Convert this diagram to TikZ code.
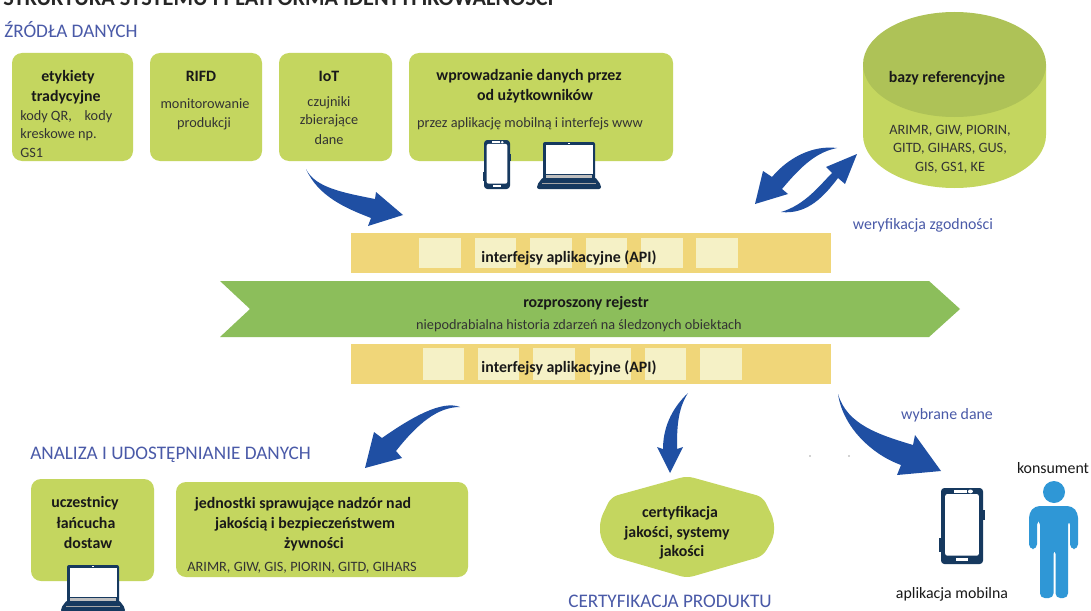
\documentclass[tikz,border=0pt]{standalone}
\usepackage{fontspec}
\setmainfont{Carlito}
\definecolor{boxgreen}{HTML}{C4D65F}
\definecolor{topgreen}{HTML}{AEC257}
\definecolor{bargold}{HTML}{F0D679}
\definecolor{barlight}{HTML}{F5F1C6}
\definecolor{ledger}{HTML}{8CBE5B}
\definecolor{arrowblue}{HTML}{1F4FA3}
\definecolor{headblue}{HTML}{4A5AA8}
\definecolor{navy}{HTML}{16395F}
\definecolor{personblue}{HTML}{2F97D6}
\newcommand{\phoneglyph}[4]{%
  \begin{scope}[shift={(#1,#2)},xscale=#3,yscale=#4]
    \fill[navy,rounded corners=2.5pt] (0,0) rectangle (100,100);
    \fill[navy] (-4,66) rectangle (1,84);
    \fill[navy] (99,29) rectangle (104,42);
    \fill[white,rounded corners=1.5pt] (10,8) rectangle (90,89);
    \fill[white] (30,3) rectangle (62,6);
    \fill[white] (70,4.5) ellipse[x radius=6,y radius=2.5];
    \fill[white] (36,91.5) rectangle (64,96.5);
  \end{scope}}
\newcommand{\laptopglyph}[2]{%
  \begin{scope}[shift={(#1,#2)}]
    \fill[navy,rounded corners=1.5pt] (6,0) rectangle (58,38);
    \fill[white] (8.5,3) rectangle (55.5,31.5);
    \fill[white] (31,0.5) rectangle (33,2.3);
    \fill[navy,rounded corners=1.5pt] (6,35) -- (0,43) -- (0,47) -- (64,47) -- (64,43) -- (58,35) -- cycle;
    \fill[black!25] (9,32.5) rectangle (55,35.5);
    \fill[black!35] (5,40.5) rectangle (59,41.5);
  \end{scope}}
\tikzset{
  x=0.75pt,y=-0.75pt,
  greenbox/.style={fill=boxgreen,rounded corners=7.5pt},
  bar/.style={fill=bargold},
  cell/.style={fill=barlight},
  blockarrow/.style={fill=arrowblue},
  lab/.style={inner sep=0pt,font=\fontsize{10.7}{13}\selectfont,text=black!80},
  blab/.style={inner sep=0pt,font=\fontsize{11.9}{14}\selectfont\bfseries,text=black!90},
  head/.style={inner sep=0pt,font=\fontsize{14.4}{17}\selectfont,text=headblue},
  note/.style={inner sep=0pt,font=\fontsize{11.9}{14}\selectfont,text=headblue},
}
\begin{document}
\begin{tikzpicture}
\useasboundingbox (0,0) rectangle (1091,610);
\begin{scope}
\clip (0,0) rectangle (1091,610);
\fill[white] (0,0) rectangle (1091,610);

% clipped page title
\node[anchor=base west,inner sep=0pt,font=\fontsize{16.7}{20}\selectfont\bfseries,text=black!85] (title) at (3,6) {STRUKTURA SYSTEMU I PLATFORMA IDENTYFIKOWALNOŚCI};

\node[head,anchor=west] (zrodla) at (4,30) {ŹRÓDŁA DANYCH};

% source boxes
\path[greenbox] (12,53) rectangle (133,161);
\path[greenbox] (150,53) rectangle (262,161);
\path[greenbox] (279,53) rectangle (392,161);
\path[greenbox] (409,53) rectangle (673,161);

\node[blab] (e1) at (68,77) {etykiety};
\node[blab] (e2) at (66,97) {tradycyjne};
\node[lab,anchor=west] (e3) at (20,117) {kody QR,\hspace{0.9em}kody};
\node[lab,anchor=west] (e4) at (20,135) {kreskowe np.};
\node[lab,anchor=west] (e5) at (20,153) {GS1};
\node[blab] (r1) at (201,76) {RIFD};
\node[lab] (r2) at (205,104) {monitorowanie};
\node[lab] (r3) at (204,124) {produkcji};
\node[blab] (i1) at (329,76) {IoT};
\node[lab] (i2) at (329,103) {czujniki};
\node[lab] (i3) at (329,121) {zbierające};
\node[lab] (i4) at (329,140) {dane};
\node[blab] (w1) at (529,76) {wprowadzanie danych przez};
\node[blab] (w2) at (535,96) {od użytkowników};
\node[lab] (w3) at (530,124) {przez aplikację mobilną i interfejs www};

\phoneglyph{484}{140}{0.26}{0.49}
\laptopglyph{537}{142}

% reference database
\path[fill=boxgreen] (863,64.5) -- (863,135) arc[start angle=180,end angle=360,x radius=91.5,y radius=-53] -- (1046,64.5) -- cycle;
\path[fill=topgreen] (954.5,64.5) ellipse[x radius=91.5,y radius=52.5];
\node[blab] (b1) at (947,78) {bazy referencyjne};
\node[lab,align=center,font=\fontsize{10.7}{13.9}\selectfont] (b2) at (950,149) {ARIMR, GIW, PIORIN,\\GITD, GIHARS, GUS,\\GIS, GS1, KE};
\node[note] (wer) at (923,225) {weryfikacja zgodności};

% API bars
\path[bar] (351,233) rectangle (831,273);
\foreach \a/\b in {419/461,475/516,530/572,586/627,641/683,696/738}
  \path[cell] (\a,238) rectangle (\b,268);
\node[blab] (api1) at (569,258) {interfejsy aplikacyjne (API)};

\path[fill=ledger] (220,281) -- (929,281) -- (960,309) -- (929,337) -- (220,337) -- (250,309) -- cycle;
\node[blab] (led1) at (586,303) {rozproszony rejestr};
\node[lab] (led2) at (579,326) {niepodrabialna historia zdarzeń na śledzonych obiektach};

\path[bar] (351,344) rectangle (831,384);
\foreach \a/\b in {423/464,478/519,533/575,590/631,645/686,700/742}
  \path[cell] (\a,348) rectangle (\b,380);
\node[blab] (api2) at (569,368) {interfejsy aplikacyjne (API)};

% block arrows
\path[blockarrow] (306,169) .. controls (315,188) and (345,193) .. (375,199) -- (376,192) -- (403,215) -- (368,226) -- (371,218) .. controls (345,208) and (318,196) .. cycle;
\path[blockarrow] (837,148) .. controls (812,145) and (788,158) .. (772,177) -- (763,171) -- (755,204) -- (788,194) -- (782,189) .. controls (802,165) and (817,152) .. cycle;
\path[blockarrow] (781,212) .. controls (805,205) and (820,185) .. (832,173) -- (826,167) -- (857,154) -- (845,184) -- (838,178) .. controls (825,195) and (808,215) .. cycle;
\path[blockarrow] (460,407) .. controls (442,400) and (412,417) .. (382,438) -- (374,432) -- (365,468) -- (402,458) -- (396,451) .. controls (418,423) and (438,407) .. cycle;
\path[blockarrow] (688,393) .. controls (670,410) and (663,430) .. (663,449) -- (657,447) -- (670,473) -- (683,447) -- (677,449) .. controls (677,430) and (677,410) .. cycle;
\path[blockarrow] (838,394) .. controls (847,425) and (880,435) .. (913,445) -- (915,435) -- (941,471) -- (897,475) -- (901,465) .. controls (873,455) and (843,428) .. cycle;

% analysis section
\node[head,anchor=west] (analiza) at (30,455) {ANALIZA I UDOSTĘPNIANIE DANYCH};
\path[greenbox] (31,479) rectangle (154,581);
\path[greenbox] (176,482) rectangle (468,577);
\node[blab] (u1) at (85,503) {uczestnicy};
\node[blab] (u2) at (86,523) {łańcucha};
\node[blab] (u3) at (88,543) {dostaw};
\node[blab] (j1) at (303,504) {jednostki sprawujące nadzór nad};
\node[blab] (j2) at (305,524) {jakością i bezpieczeństwem};
\node[blab] (j3) at (314,544) {żywności};
\node[lab] (j4) at (302,568) {ARIMR, GIW, GIS, PIORIN, GITD, GIHARS};
\laptopglyph{61}{565}

% certification
\path[fill=boxgreen,rounded corners=5pt] (687,476) -- (763,497) -- (774,520) -- (774,537) -- (763,556) -- (687,578) -- (611,556) -- (600,537) -- (600,520) -- (611,497) -- cycle;
\node[blab] (c1) at (680,513) {certyfikacja};
\node[blab] (c2) at (677,533) {jakości, systemy};
\node[blab] (c3) at (682,552) {jakości};
\node[head,anchor=west] (cert) at (568,601) {CERTYFIKACJA PRODUKTU};

% consumer
\node[note] (wyb) at (947,415) {wybrane dane};
\phoneglyph{941}{488}{0.42}{0.76}
\node[lab,font=\fontsize{11.9}{14}\selectfont,text=black!90] (apl) at (952,594) {aplikacja mobilna};
\node[lab,font=\fontsize{11.9}{14}\selectfont,text=black!90] (kon) at (1053,468) {konsument};
\fill[personblue] (1054,492) ellipse[x radius=11,y radius=11];
\path[fill=personblue,rounded corners=3.5pt] (1035,506) -- (1072,506) -- (1078,513) -- (1078,549) -- (1070,549) -- (1070,520) -- (1068,520) -- (1068,598) -- (1055.5,598) -- (1055.5,549) -- (1053.5,549) -- (1053.5,598) -- (1040,598) -- (1040,520) -- (1037,520) -- (1037,549) -- (1029,549) -- (1029,513) -- cycle;

% specks
\fill[black!35] (810,456) circle[radius=0.9];
\fill[black!35] (849,456) circle[radius=0.9];
\end{scope}
\end{tikzpicture}
\end{document}
